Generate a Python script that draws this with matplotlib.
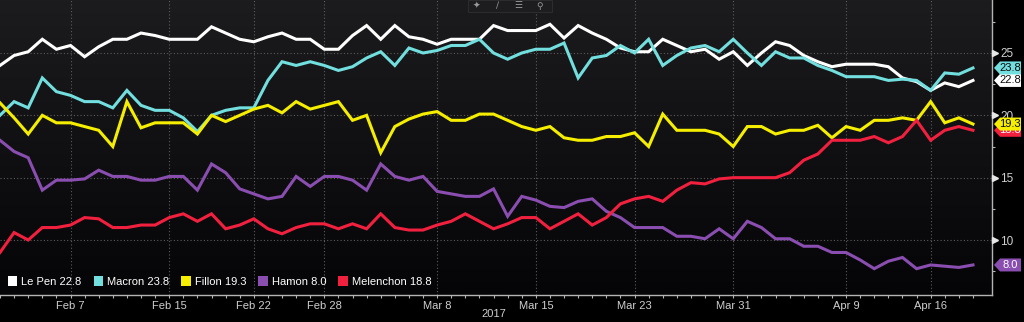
import numpy as np
import matplotlib
matplotlib.use("Agg")
import matplotlib.pyplot as plt
import matplotlib.transforms as mtransforms
from matplotlib.patches import Patch, Rectangle, Polygon
from matplotlib.colors import LinearSegmentedColormap

# ---------------- data (poll observations, 70 points) ----------------
names = ["Le Pen", "Macron", "Fillon", "Hamon", "Melenchon"]
colors = ["#ffffff", "#72dede", "#f5ee00", "#8a4db0", "#f2203f"]

lepen = [24.0, 24.8, 25.1, 26.1, 25.3, 25.6, 24.7, 25.5, 26.1, 26.1,
         26.6, 26.4, 26.1, 26.1, 26.1, 27.1, 26.6, 26.1, 25.9, 26.3,
         26.6, 26.1, 26.1, 25.3, 25.3, 26.4, 27.2, 26.1, 27.2, 26.3,
         26.1, 25.7, 26.1, 26.1, 26.1, 27.2, 26.8, 26.8, 26.8, 27.3,
         26.2, 27.2, 26.6, 26.1, 25.4, 25.1, 25.1, 26.1, 25.6, 25.1,
         25.3, 24.5, 25.1, 24.0, 25.0, 25.9, 25.6, 24.8, 24.3, 23.9,
         24.1, 24.1, 24.1, 23.9, 23.0, 22.7, 22.0, 22.6, 22.3, 22.8]
macron = [20.0, 21.1, 20.6, 23.0, 21.9, 21.6, 21.1, 21.1, 20.6, 22.0,
          20.8, 20.4, 20.4, 19.8, 18.7, 20.0, 20.4, 20.6, 20.6, 22.8,
          24.3, 24.0, 24.3, 24.0, 23.6, 23.9, 24.6, 25.1, 24.0, 25.4,
          25.0, 25.2, 25.6, 25.6, 26.1, 25.0, 24.5, 25.0, 25.3, 25.3,
          25.8, 23.0, 24.6, 24.8, 25.6, 25.0, 26.1, 24.0, 24.8, 25.4,
          25.6, 25.1, 26.1, 25.0, 24.0, 25.1, 24.6, 24.6, 24.0, 23.6,
          23.1, 23.1, 23.1, 22.8, 22.9, 22.8, 22.0, 23.4, 23.3, 23.8]
fillon = [21.0, 19.8, 18.5, 20.0, 19.4, 19.4, 19.1, 18.8, 17.5, 21.1,
          19.0, 19.4, 19.4, 19.4, 18.5, 20.0, 19.5, 20.0, 20.5, 20.8,
          20.2, 21.1, 20.5, 20.8, 21.1, 19.6, 20.0, 17.0, 19.1, 19.7,
          20.1, 20.3, 19.6, 19.6, 20.1, 20.1, 19.6, 19.1, 18.8, 19.1,
          18.2, 18.0, 18.0, 18.3, 18.3, 18.6, 17.5, 20.1, 18.8, 18.8,
          18.8, 18.5, 17.5, 19.1, 19.1, 18.5, 18.8, 18.8, 19.2, 18.2,
          19.1, 18.8, 19.6, 19.6, 19.8, 19.6, 21.1, 19.4, 19.8, 19.3]
hamon = [18.0, 17.1, 16.6, 14.0, 14.8, 14.8, 14.9, 15.6, 15.1, 15.1,
         14.8, 14.8, 15.1, 15.1, 14.0, 16.1, 15.4, 14.1, 13.7, 13.3,
         13.5, 15.1, 14.3, 15.1, 15.1, 14.8, 14.0, 16.1, 15.1, 14.8,
         15.1, 13.9, 13.7, 13.5, 13.5, 14.1, 11.9, 13.5, 13.2, 12.7,
         12.6, 13.1, 13.3, 12.3, 11.8, 11.0, 11.0, 11.0, 10.3, 10.3,
         10.1, 10.9, 10.1, 11.5, 11.0, 10.1, 10.1, 9.5, 9.5, 9.0,
         9.0, 8.4, 7.7, 8.3, 8.6, 7.7, 8.0, 7.9, 7.8, 8.0]
melenchon = [9.0, 10.6, 10.0, 11.0, 11.0, 11.2, 11.8, 11.7, 11.0, 11.0,
             11.2, 11.2, 11.8, 12.1, 11.5, 12.1, 10.9, 11.2, 11.7, 10.9,
             10.5, 11.0, 11.3, 11.3, 10.9, 11.3, 10.9, 12.1, 11.0, 10.8,
             10.8, 11.2, 11.5, 12.1, 11.5, 10.9, 11.3, 11.8, 11.8, 10.9,
             11.5, 12.1, 11.2, 11.8, 12.9, 13.3, 13.5, 13.1, 14.0, 14.6,
             14.5, 14.9, 15.0, 15.0, 15.0, 15.0, 15.4, 16.4, 16.9, 18.0,
             18.0, 18.0, 18.3, 17.8, 18.3, 19.6, 18.0, 18.8, 19.1, 18.8]
series = [lepen, macron, fillon, hamon, melenchon]

tick_idx = [5, 12, 18, 23, 31, 38, 45, 52, 60, 66]
tick_labels = ["Feb 7", "Feb 15", "Feb 22", "Feb 28", "Mar 8", "Mar 15",
               "Mar 23", "Mar 31", "Apr 9", "Apr 16"]
y_ticks = [10, 15, 20, 25]
y_minor = [7.5, 12.5, 17.5, 22.5, 27.5]

# ---------------- figure ----------------
FONT = "Liberation Sans"
plt.rcParams["font.family"] = [FONT, "DejaVu Sans"]
W, H = 1024, 322
fig = plt.figure(figsize=(W / 100, H / 100), dpi=100, facecolor="black")
ax = fig.add_axes([0, 27 / H, 992 / W, 295 / H])

cmap = LinearSegmentedColormap.from_list("bg", ["#1c1c1e", "#050507"])
grad = np.linspace(0, 1, 256).reshape(-1, 1)
ax.imshow(grad, extent=[0, 1, 0, 1], transform=ax.transAxes, cmap=cmap,
          aspect="auto", zorder=0, interpolation="bilinear")

x = np.arange(len(lepen))
for vals, c in zip(series, colors):
    ax.plot(x, vals, color=c, lw=2.2, solid_joinstyle="miter", zorder=3)

ax.set_xlim(0, 70.35)
ax.set_ylim(5.59, 29.25)

# grid
for t in tick_idx:
    ax.axvline(t, color="#5c5c5c", lw=0.8, ls=(0, (1, 2)), zorder=1)
for t in y_ticks:
    ax.axhline(t, color="#5c5c5c", lw=0.8, ls=(0, (1, 2)), zorder=1)

# spines
for s in ["left", "top"]:
    ax.spines[s].set_visible(False)
for s in ["bottom", "right"]:
    ax.spines[s].set_color("#b4b4b4")
    ax.spines[s].set_linewidth(1.0)

# x ticks
ax.set_xticks(tick_idx)
ax.set_xticklabels(tick_labels)
ax.set_xticks(x, minor=True)
ax.tick_params(axis="x", which="both", direction="out", length=2.5,
               color="#b4b4b4", width=0.8)
ax.tick_params(axis="x", which="major", pad=1.5, labelsize=8,
               labelcolor="#cfcfcf")

# y ticks on right
ax.yaxis.tick_right()
ax.set_yticks(y_ticks)
ax.set_yticks(y_minor, minor=True)
ax.tick_params(axis="y", which="major", length=0, pad=6, labelsize=8.5,
               labelcolor="#cfcfcf")
ax.tick_params(axis="y", which="minor", direction="out", length=2.5,
               color="#b4b4b4", width=0.8)
yt = ax.get_yaxis_transform()
ax.plot([1.0 + 3 / 992] * len(y_ticks), y_ticks, ls="none", marker=">",
        ms=4.5, color="#e6e6e6", transform=yt, clip_on=False, zorder=4)

# value tags on right
tag_order = [0, 1, 4, 2, 3]
for k, i in enumerate(tag_order):
    vals, c = series[i], colors[i]
    last = vals[-1]
    T = mtransforms.Affine2D() + mtransforms.ScaledTranslation(1.0, last, yt)
    poly = Polygon([(2, 0), (8, 6.5), (29, 6.5), (29, -6.5), (8, -6.5)],
                   closed=True, fc=c, ec="none", transform=T,
                   zorder=10 + 2 * k, clip_on=False)
    ax.add_patch(poly)
    tc = "#ffffff" if i in (3, 4) else "#0a0a0a"
    ax.annotate(f"{last:.1f}", xy=(1.0, last), xycoords=yt,
                xytext=(18, 0), textcoords="offset pixels", ha="center",
                va="center", fontsize=8, color=tc, annotation_clip=False,
                zorder=11 + 2 * k)

# legend
handles = [Patch(fc=c, ec="none") for c in colors]
labels = [f"{n} {v[-1]:.1f}" for n, v in zip(names, series)]
leg = ax.legend(handles, labels, loc="lower left", bbox_to_anchor=(0.0, 0.0),
                ncol=5, frameon=False, fontsize=8, handlelength=0.85,
                handleheight=1.0, handletextpad=0.35, columnspacing=1.1,
                borderaxespad=0.3, labelcolor="white")
leg.set_zorder(30)

fig.text(494 / W, 1 - 314 / H, "2017", color="#cfcfcf", fontsize=8,
         ha="center", va="center")

# toolbar overlay
fig.add_artist(Rectangle((468 / W, 1 - 12 / H), 84 / W, 12 / H,
                         transform=fig.transFigure, fc="#1d1d1f",
                         ec="#2c2c2e", lw=0.8, zorder=20))
for xi, g in zip([476, 497, 518, 540], ["\u2726", "\u2215", "\u2630", "\u26b2"]):
    fig.text(xi / W, 1 - 6 / H, g, color="#9a9a9a", fontsize=6.5,
             ha="center", va="center", zorder=21,
             family=["DejaVu Sans"])

fig.savefig("out.png", dpi=100, facecolor="black")
